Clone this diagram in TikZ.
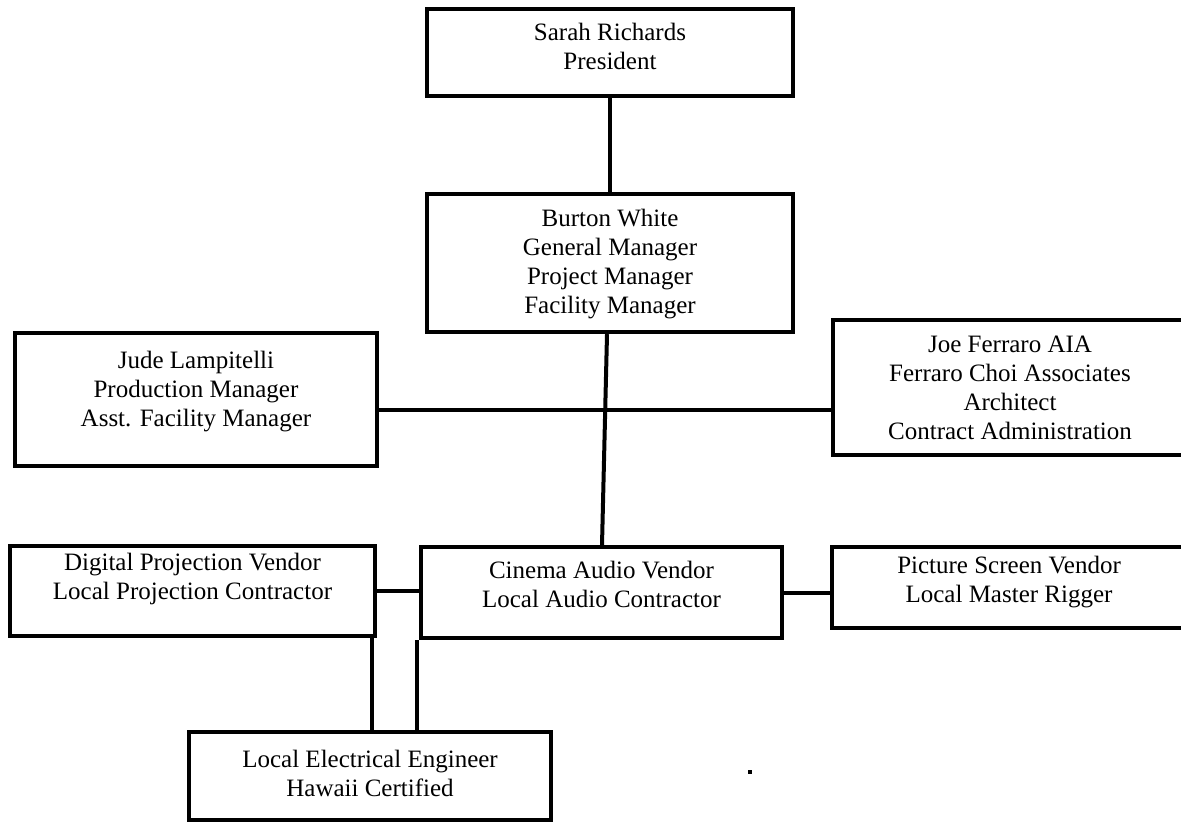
\documentclass[tikz,border=0pt]{standalone}
\usepackage{fontspec}
\setmainfont{Liberation Serif}
\usetikzlibrary{calc}
\newcommand{\boxtext}[2]{\raisebox{#1}[\height][\depth]{\begin{tabular}{@{}c@{}}#2\end{tabular}}}
\begin{document}
\begin{tikzpicture}[x=0.5pt,y=-0.5pt,
  box/.style={draw=black, line width=2.2pt, rectangle, inner sep=0pt, fill=white,
    font=\fontsize{12.5}{14.5}\selectfont},
  link/.style={draw=black, line width=2pt}]
\useasboundingbox (0,0) rectangle (1181,826);
\fill[white] (0,0) rectangle (1181,826);
\clip (0,0) rectangle (1181,826);
\node[box, minimum width=183pt, minimum height=43.5pt] (sarah) at (610,52.5)
  {\boxtext{1.75pt}{Sarah Richards\\President}};
\node[box, minimum width=183pt, minimum height=69pt] (burton) at (610,263)
  {\boxtext{-0.5pt}{Burton White\\General Manager\\Project Manager\\Facility Manager}};
\node[box, minimum width=181pt, minimum height=66.5pt] (jude) at (196,399.5)
  {\boxtext{4pt}{Jude Lampitelli\\Production Manager\\Asst. Facility Manager}};
\node[box, minimum width=177pt, minimum height=67.5pt] (joe) at (1010,387.5)
  {\boxtext{-1.5pt}{Joe Ferraro AIA\\Ferraro Choi Associates\\Architect\\Contract Administration}};
\node[box, minimum width=182.5pt, minimum height=45pt] (digital) at (192.5,591)
  {\boxtext{6pt}{Digital Projection Vendor\\Local Projection Contractor}};
\node[box, minimum width=180.5pt, minimum height=45.5pt] (cinema) at (601.5,592.5)
  {\boxtext{2.75pt}{Cinema Audio Vendor\\Local Audio Contractor}};
\node[box, minimum width=177pt, minimum height=40.5pt] (picture) at (1009,587.5)
  {\boxtext{2.5pt}{Picture Screen Vendor\\Local Master Rigger}};
\node[box, minimum width=181pt, minimum height=44pt] (electrical) at (370,776)
  {\boxtext{0pt}{Local Electrical Engineer\\Hawaii Certified}};
\node[fill=black, inner sep=0pt, minimum size=1.6pt] (dot) at (750,772) {};
% connectors
\draw[link] (sarah.south) -- (burton.north);
\draw[link] ([xshift=-1.5pt]burton.south) -- ([xshift=0.25pt]cinema.north);
\draw[link] ([yshift=-5.25pt]jude.east) -- ([yshift=-5.25pt]jude.east -| joe.west);
\draw[link] (digital.east) -- (digital.east -| cinema.west);
\draw[link] (cinema.east) -- (cinema.east -| picture.west);
\draw[link] ([xshift=-2.5pt]digital.south east) -- ([xshift=-2.5pt]digital.south east |- electrical.north);
\draw[link] ([xshift=-1pt]cinema.south west) -- ([xshift=-1pt]cinema.south west |- electrical.north);
\end{tikzpicture}
\end{document}
